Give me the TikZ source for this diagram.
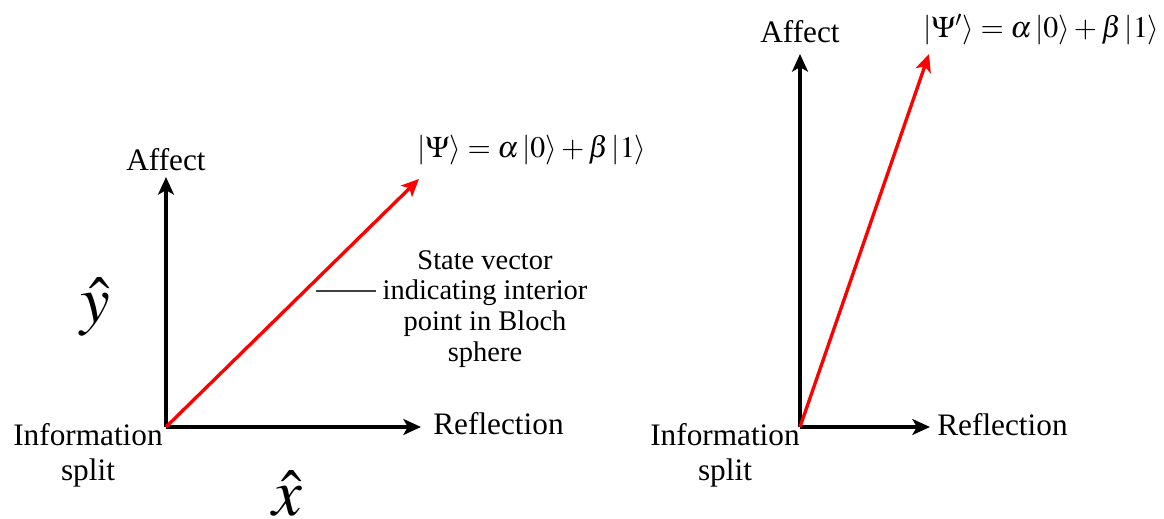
\documentclass[tikz,border=0pt]{standalone}
\usepackage{amsmath,amssymb}
\usepackage{mathptmx}
\usepackage{fontspec}
\setmainfont{Liberation Serif}
\usetikzlibrary{positioning,arrows.meta,calc}

\begin{document}
\begin{tikzpicture}[x=0.02cm,y=-0.02cm,>={Stealth[length=10pt,width=9pt,inset=2.5pt]},
  font=\fontsize{17.8}{20}\selectfont]
\useasboundingbox (0,0) rectangle (1164,519);
\tikzset{axis/.style={->,line width=1.9pt},
  statevec/.style={->,line width=1.9pt,red},
  lbl/.style={inner sep=0pt},
  ket/.style={lbl,anchor=west,font=\fontsize{17}{20}\selectfont},
  unitvec/.style={lbl,font=\fontsize{38}{38}\selectfont}}
% left diagram
\coordinate (O1) at (166,427);
\coordinate (Y1) at (166,177);
\coordinate (X1) at (421,427);
\coordinate (P1) at (419,179);
\draw[axis] (O1) -- (Y1);
\draw[axis] (O1) -- (X1);
\draw[statevec] (O1) -- (P1);
\node[lbl] (aff1) at (166,160) {Affect};
\node[lbl,anchor=west] (ref1) at (433,424) {Reflection};
\node[lbl,align=center] (inf1) at (88,455) {Information\\split};
\node[unitvec] (yhat) at (95,307) {$\hat{y}$};
\node[unitvec] (xhat) at (287,494) {$\hat{x}$};
\node[ket] (ket1) at (417,150) {$|\Psi\rangle = \alpha\,|0\rangle + \beta\,|1\rangle$};
\node[lbl,align=center,font=\fontsize{16.2}{17.6}\selectfont] (note) at (485,309) {State vector\\indicating interior\\point in Bloch\\sphere};
\coordinate (lead) at (316,291);
\draw[line width=0.6pt,black!75] (lead) -- ($(lead -| note.west)+(-6,0)$);
% right diagram
\coordinate (O2) at (800,427);
\coordinate (Y2) at (800,54);
\coordinate (X2) at (930,427);
\coordinate (P2) at (929,54);
\draw[axis] (O2) -- (Y2);
\draw[axis] (O2) -- (X2);
\draw[statevec] (O2) -- (P2);
\node[lbl] (aff2) at (800,32) {Affect};
\node[lbl,anchor=west] (ref2) at (937,425) {Reflection};
\node[lbl,align=center] (inf2) at (725,455) {Information\\split};
\node[ket] (ket2) at (923,30) {$|\Psi'\rangle = \alpha\,|0\rangle + \beta\,|1\rangle$};
\end{tikzpicture}
\end{document}
